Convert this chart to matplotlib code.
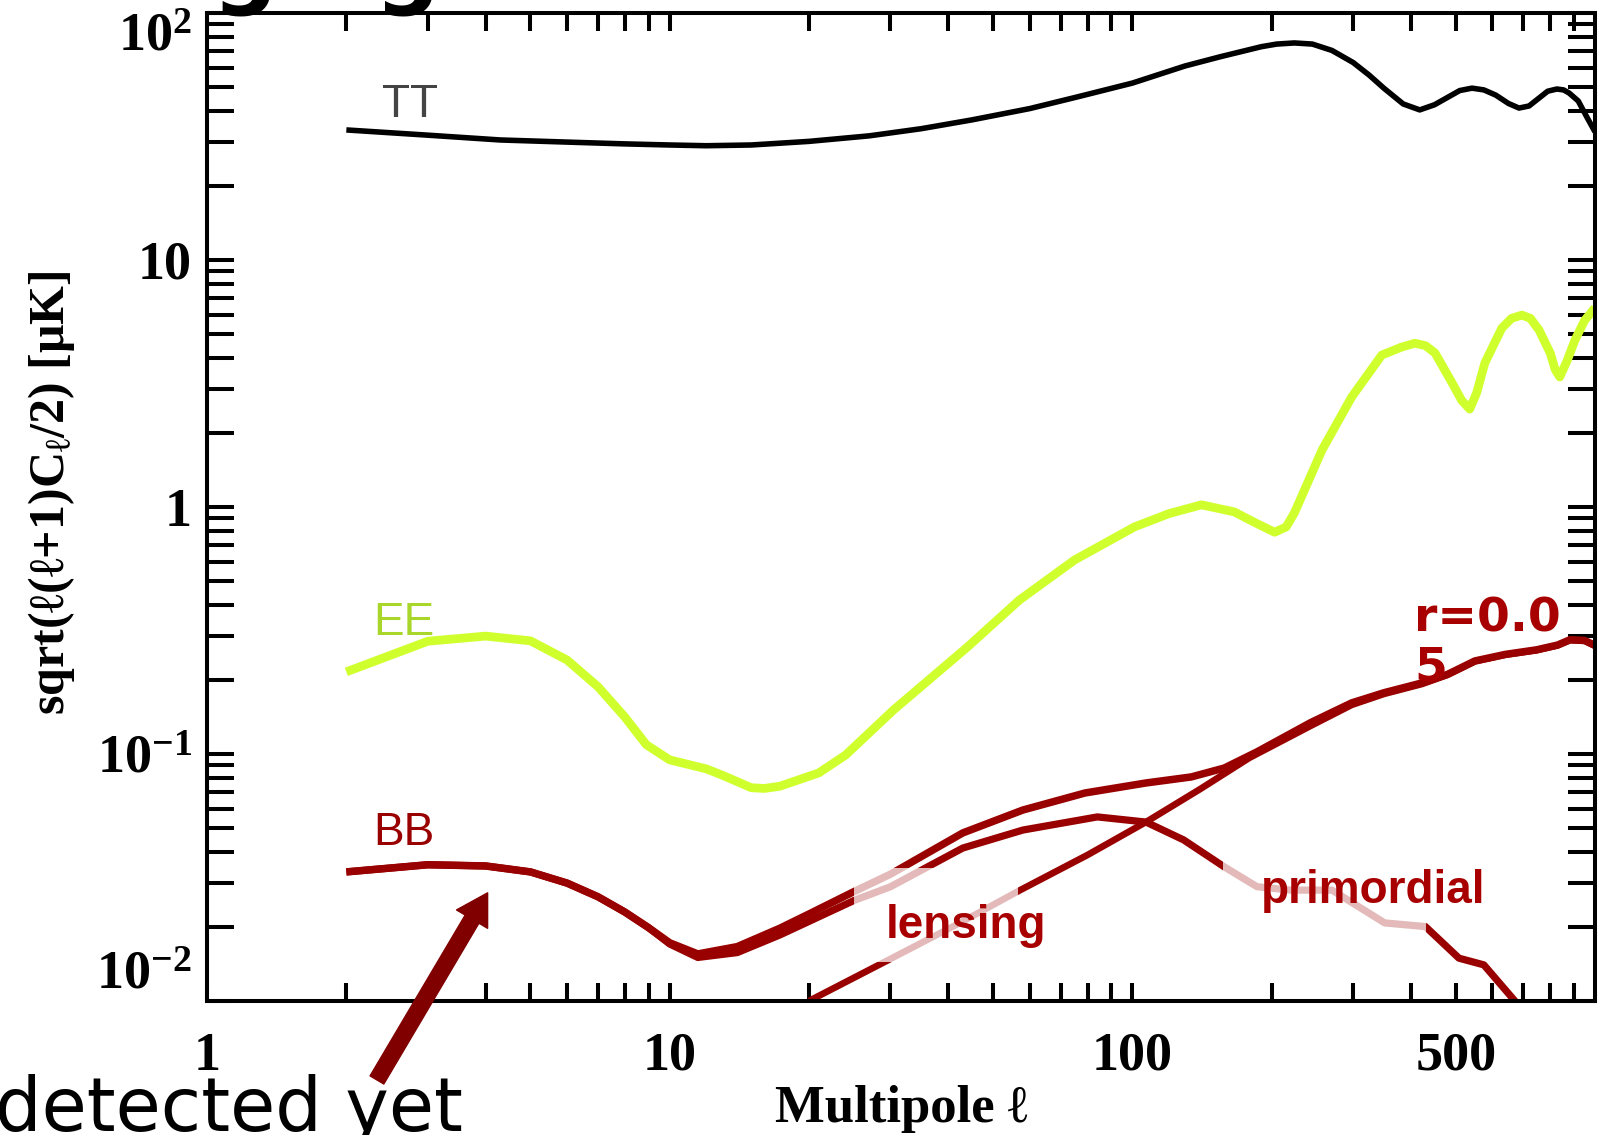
import matplotlib
matplotlib.use('Agg')
import matplotlib.pyplot as plt
from matplotlib.patches import Rectangle
from matplotlib.ticker import LogLocator, NullFormatter

# --- spectra (sqrt(l(l+1)C_l/2) in uK) ---
ell_tt = [2, 3, 4.3, 6, 8, 10, 12, 15, 20, 27, 35, 45, 60, 76, 100, 130, 155,
          190, 205, 224, 245, 270, 300, 325, 350, 385, 418, 450, 480, 510, 542,
          575, 610, 650, 685, 720, 760, 790, 827, 855, 879, 920, 960, 1000]
tt = [33.6, 32.0, 30.6, 30.0, 29.5, 29.2, 29.0, 29.2, 30.2, 31.8, 34.0, 36.9,
      41.0, 45.7, 52.0, 61.0, 66.5, 73.0, 74.8, 75.6, 74.8, 70.5, 63.0, 56.0,
      49.5, 42.8, 40.5, 42.5, 45.5, 48.5, 49.6, 48.8, 46.5, 43.0, 41.2, 42.0,
      45.5, 48.2, 49.2, 48.8, 47.4, 44.0, 37.9, 33.0]

ell_ee = [2, 3, 4, 5, 6, 7, 8, 8.9, 10, 12, 13, 15, 16, 17.3, 21, 24, 30.5, 44,
          57, 75, 101, 120, 141, 166, 185, 203, 215, 224, 257, 298, 346, 382,
          408, 430, 451, 490, 515, 536, 555, 578, 629, 660, 695, 725, 757, 800,
          820, 839, 870, 905, 950, 1000]
ee = [0.215, 0.286, 0.300, 0.287, 0.240, 0.187, 0.141, 0.109, 0.0946, 0.087,
      0.082, 0.073, 0.0725, 0.074, 0.0838, 0.099, 0.151, 0.271, 0.42, 0.61,
      0.83, 0.94, 1.02, 0.955, 0.86, 0.79, 0.83, 0.946, 1.70, 2.79, 4.12, 4.44,
      4.6, 4.5, 4.2, 3.2, 2.7, 2.49, 2.9, 3.83, 5.3, 5.8, 5.98, 5.8, 5.2, 4.2,
      3.6, 3.36, 3.9, 4.74, 5.7, 6.4]

# BB total (r=0.05 + lensing)
ell_bb = [2, 3, 4, 5, 6, 7, 8, 9, 10, 11.5, 14, 17.3, 20, 25, 30, 43, 58, 79,
          107, 134, 158, 186, 243, 298, 350, 423, 480, 550, 640, 748, 830, 883,
          950, 1000]
bb = [0.0333, 0.0356, 0.0352, 0.0333, 0.030, 0.0264, 0.0229, 0.0198, 0.0172,
      0.0155, 0.0166, 0.0197, 0.0225, 0.0277, 0.0326, 0.0479, 0.0593, 0.0695,
      0.0763, 0.0807, 0.0877, 0.102, 0.134, 0.161, 0.177, 0.194, 0.21, 0.238,
      0.253, 0.264, 0.276, 0.29, 0.288, 0.275]

ell_prim = [2, 3, 4, 5, 6, 7, 8, 9, 10, 11.5, 14, 17.3, 25, 30, 43, 58, 84,
            107, 129, 158, 186, 220, 270, 351, 430, 508, 575, 668, 720]
prim = [0.0333, 0.0356, 0.0352, 0.0333, 0.030, 0.0264, 0.0229, 0.0198, 0.0170,
        0.0150, 0.0157, 0.0185, 0.0255, 0.029, 0.0416, 0.0492, 0.0556, 0.053,
        0.0449, 0.0349, 0.029, 0.0281, 0.0281, 0.0207, 0.020, 0.0149, 0.014,
        0.0101, 0.0085]

ell_lens = [20, 30, 43, 57, 80, 107, 140, 179, 243, 298, 350, 423, 480, 550,
            640, 748, 830, 883, 950, 1000]
lens = [0.0100, 0.0148, 0.0210, 0.0280, 0.039, 0.053, 0.072, 0.0964, 0.130,
        0.158, 0.175, 0.192, 0.209, 0.237, 0.252, 0.263, 0.275, 0.289, 0.287,
        0.274]

xticks = [1, 10, 100, 500]
xticklabels = ['1', '10', '100', '500']
yticks = [0.01, 0.1, 1, 10, 100]
yticklabels = ['$10^{-2}$', '$10^{-1}$', '1', '10', '$10^{2}$']

RED = '#990000'
TXTRED = '#a80000'
SERIF = ['Liberation Serif', 'DejaVu Serif']

plt.rcParams['mathtext.fontset'] = 'custom'
plt.rcParams['mathtext.rm'] = 'Liberation Serif:bold'
plt.rcParams['mathtext.it'] = 'Liberation Serif:bold:italic'
plt.rcParams['mathtext.bf'] = 'Liberation Serif:bold'
plt.rcParams['mathtext.default'] = 'rm'

fig = plt.figure(figsize=(16.04, 11.35), dpi=100)
ax = fig.add_axes([0.1291, 0.1181, 0.8653, 0.8705])

line_kw = dict(solid_capstyle='butt', solid_joinstyle='round')
ax.plot(ell_tt, tt, color='black', lw=4.0, **line_kw)
ax.plot(ell_ee, ee, color='#d0ff2e', lw=6.3, **line_kw)
ax.plot(ell_prim, prim, color=RED, lw=5.2, **line_kw)
ax.plot(ell_lens, lens, color=RED, lw=4.8, **line_kw)
ax.plot(ell_bb, bb, color=RED, lw=5.4, **line_kw)

ax.set_xscale('log')
ax.set_yscale('log')
ax.set_xlim(1, 1000)
ax.set_ylim(0.01, 100)

# washed-out patches behind the component labels
for x0, x1, y0, y1 in [(0.466, 0.584, 0.0395, 0.1346), (0.732, 0.878, 0.062, 0.143)]:
    ax.add_patch(Rectangle((x0, y0), x1 - x0, y1 - y0, transform=ax.transAxes,
                           facecolor='white', edgecolor='none', alpha=0.73,
                           zorder=3))

ax.set_xticks(xticks)
ax.set_xticklabels(xticklabels)
ax.xaxis.set_minor_locator(LogLocator(base=10, subs=range(2, 10), numticks=20))
ax.xaxis.set_minor_formatter(NullFormatter())
ax.set_yticks(yticks)
ax.set_yticklabels(yticklabels)
ax.yaxis.set_minor_locator(LogLocator(base=10, subs=range(2, 10), numticks=20))
ax.yaxis.set_minor_formatter(NullFormatter())

ax.tick_params(axis='both', which='both', direction='in', top=True, right=True,
               width=2.9, color='black')
ax.tick_params(axis='x', which='both', length=13, pad=22)
ax.tick_params(axis='y', which='both', length=19.5, pad=11)
for lab in ax.get_xticklabels() + ax.get_yticklabels():
    lab.set_family(SERIF)
    lab.set_fontweight('bold')
    lab.set_fontsize(39)
ylabs = ax.get_yticklabels()
ylabs[0].set_va('bottom')
ylabs[-1].set_va('top')

for sp in ax.spines.values():
    sp.set_linewidth(2.9)

ax.set_xlabel('Multipole ℓ', family=SERIF, fontweight='bold', fontsize=38,
              va='center')
ax.xaxis.set_label_coords(0.5, -0.109)
ax.set_ylabel('sqrt(ℓ(ℓ+1)C$_ℓ$/2) [μK]', family=SERIF, fontweight='bold',
              fontsize=36, va='center')
ax.yaxis.set_label_coords(-0.1124, 0.514)

# curve labels
ax.text(2.39, 37.9, 'TT', color='#444444', fontsize=33, family='Liberation Sans',
        va='baseline')
ax.text(2.29, 0.303, 'EE', color='#a8d62a', fontsize=33, family='Liberation Sans',
        va='baseline')
ax.text(2.29, 0.0429, 'BB', color=RED, fontsize=33, family='Liberation Sans',
        va='baseline')
ax.text(29.3, 0.0180, 'lensing', color=TXTRED, fontsize=33, fontweight='bold',
        family='Liberation Sans', va='baseline', zorder=5)
ax.text(190, 0.0249, 'primordial', color=TXTRED, fontsize=33, fontweight='bold',
        family='Liberation Sans', va='baseline', zorder=5)
ax.text(406, 0.432, 'r=0.0\n5', color=TXTRED, fontsize=34, fontweight='bold',
        family='DejaVu Sans', va='top', linespacing=1.1, zorder=5)

ax.annotate('', xy=(4.04, 0.0274), xycoords='data',
            xytext=(0.235, 0.0485), textcoords='figure fraction',
            arrowprops=dict(width=11.5, headwidth=26, headlength=22,
                            color='#800000', shrink=0),
            annotation_clip=False)

# slide text around the plot
fig.text(-0.107, 1.0035, 'Challenging', fontsize=66, fontweight='bold',
         family='DejaVu Sans', va='baseline', ha='left')
fig.text(-0.003, 0.0035, 'detected yet', fontsize=53, family='DejaVu Sans',
         va='baseline', ha='left')

fig.savefig('out.png', dpi=100)
